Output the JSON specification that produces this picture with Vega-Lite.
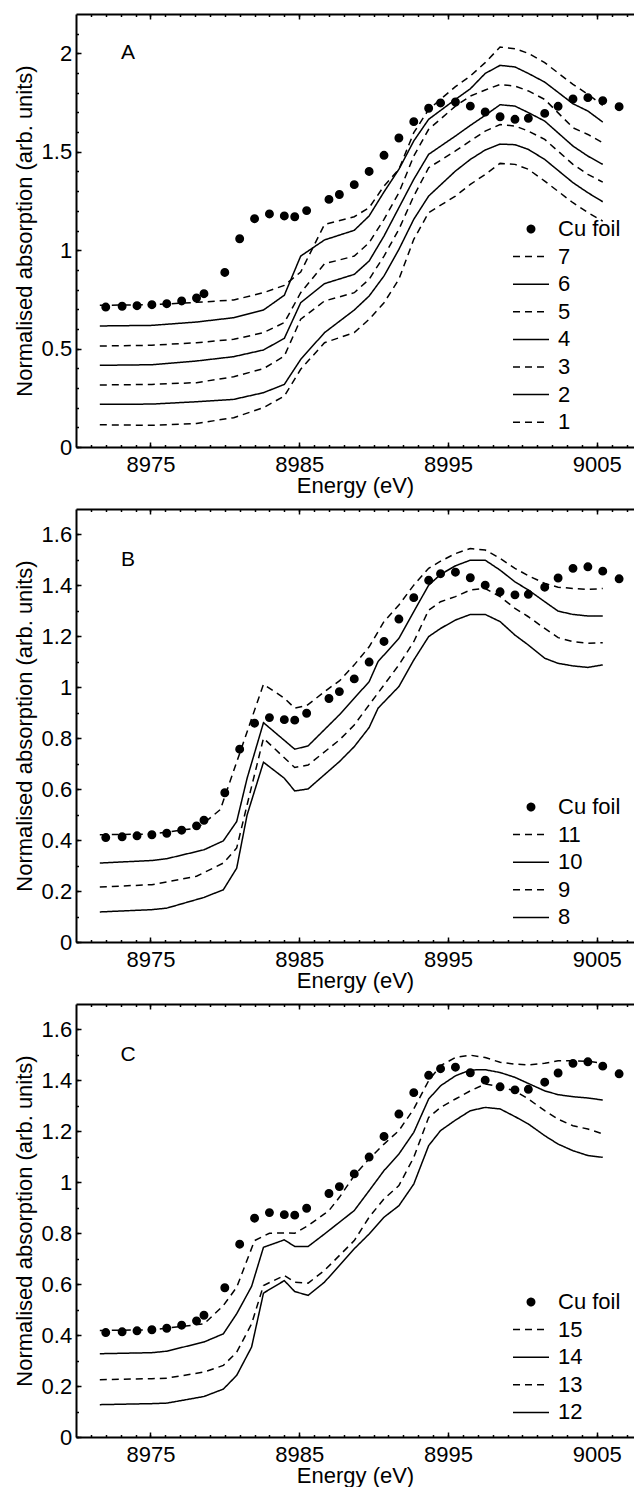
{
  "$schema": "https://vega.github.io/schema/vega-lite/v6.json",
  "background": "white",
  "padding": {"left": 13, "top": 13, "right": 0, "bottom": 0},
  "spacing": 11,
  "datasets": {
    "cuA": [
      {"s":"Cu foil","E":8972.0,"mu":0.711},{"s":"Cu foil","E":8973.1,"mu":0.715},{"s":"Cu foil","E":8974.1,"mu":0.718},{"s":"Cu foil","E":8975.1,"mu":0.723},{"s":"Cu foil","E":8976.1,"mu":0.728},{"s":"Cu foil","E":8977.1,"mu":0.742},{"s":"Cu foil","E":8978.1,"mu":0.757},{"s":"Cu foil","E":8978.6,"mu":0.779},{"s":"Cu foil","E":8980.0,"mu":0.887},{"s":"Cu foil","E":8981.0,"mu":1.058},{"s":"Cu foil","E":8982.0,"mu":1.160},{"s":"Cu foil","E":8983.0,"mu":1.184},{"s":"Cu foil","E":8984.0,"mu":1.174},{"s":"Cu foil","E":8984.7,"mu":1.170},{"s":"Cu foil","E":8985.5,"mu":1.201},{"s":"Cu foil","E":8987.0,"mu":1.258},{"s":"Cu foil","E":8987.7,"mu":1.283},{"s":"Cu foil","E":8988.7,"mu":1.333},{"s":"Cu foil","E":8989.7,"mu":1.400},{"s":"Cu foil","E":8990.7,"mu":1.482},{"s":"Cu foil","E":8991.7,"mu":1.570},{"s":"Cu foil","E":8992.7,"mu":1.653},{"s":"Cu foil","E":8993.7,"mu":1.721},{"s":"Cu foil","E":8994.5,"mu":1.748},{"s":"Cu foil","E":8995.5,"mu":1.753},{"s":"Cu foil","E":8996.5,"mu":1.732},{"s":"Cu foil","E":8997.5,"mu":1.702},{"s":"Cu foil","E":8998.5,"mu":1.678},{"s":"Cu foil","E":8999.5,"mu":1.665},{"s":"Cu foil","E":9000.4,"mu":1.670},{"s":"Cu foil","E":9001.5,"mu":1.695},{"s":"Cu foil","E":9002.4,"mu":1.731},{"s":"Cu foil","E":9003.4,"mu":1.768},{"s":"Cu foil","E":9004.4,"mu":1.775},{"s":"Cu foil","E":9005.4,"mu":1.760},{"s":"Cu foil","E":9006.5,"mu":1.729}
    ],
    "cuBC": [
      {"s":"Cu foil","E":8972.0,"mu":0.410},{"s":"Cu foil","E":8973.1,"mu":0.413},{"s":"Cu foil","E":8974.1,"mu":0.417},{"s":"Cu foil","E":8975.1,"mu":0.421},{"s":"Cu foil","E":8976.1,"mu":0.427},{"s":"Cu foil","E":8977.1,"mu":0.439},{"s":"Cu foil","E":8978.1,"mu":0.456},{"s":"Cu foil","E":8978.6,"mu":0.478},{"s":"Cu foil","E":8980.0,"mu":0.586},{"s":"Cu foil","E":8981.0,"mu":0.757},{"s":"Cu foil","E":8982.0,"mu":0.859},{"s":"Cu foil","E":8983.0,"mu":0.881},{"s":"Cu foil","E":8984.0,"mu":0.873},{"s":"Cu foil","E":8984.7,"mu":0.871},{"s":"Cu foil","E":8985.5,"mu":0.898},{"s":"Cu foil","E":8987.0,"mu":0.956},{"s":"Cu foil","E":8987.7,"mu":0.983},{"s":"Cu foil","E":8988.7,"mu":1.033},{"s":"Cu foil","E":8989.7,"mu":1.099},{"s":"Cu foil","E":8990.7,"mu":1.180},{"s":"Cu foil","E":8991.7,"mu":1.268},{"s":"Cu foil","E":8992.7,"mu":1.352},{"s":"Cu foil","E":8993.7,"mu":1.420},{"s":"Cu foil","E":8994.5,"mu":1.446},{"s":"Cu foil","E":8995.5,"mu":1.452},{"s":"Cu foil","E":8996.5,"mu":1.430},{"s":"Cu foil","E":8997.5,"mu":1.401},{"s":"Cu foil","E":8998.5,"mu":1.375},{"s":"Cu foil","E":8999.5,"mu":1.363},{"s":"Cu foil","E":9000.4,"mu":1.365},{"s":"Cu foil","E":9001.5,"mu":1.393},{"s":"Cu foil","E":9002.4,"mu":1.429},{"s":"Cu foil","E":9003.4,"mu":1.467},{"s":"Cu foil","E":9004.4,"mu":1.473},{"s":"Cu foil","E":9005.4,"mu":1.456},{"s":"Cu foil","E":9006.5,"mu":1.426}
    ],
    "linesA": [
      {"s":"7","E":8971.6,"mu":0.720},{"s":"7","E":8975.1,"mu":0.723},{"s":"7","E":8978.1,"mu":0.735},{"s":"7","E":8980.6,"mu":0.747},{"s":"7","E":8982.6,"mu":0.784},{"s":"7","E":8984.0,"mu":0.821},{"s":"7","E":8985.1,"mu":0.889},{"s":"7","E":8986.7,"mu":1.131},{"s":"7","E":8988.7,"mu":1.170},{"s":"7","E":8989.7,"mu":1.216},{"s":"7","E":8990.7,"mu":1.326},{"s":"7","E":8991.7,"mu":1.411},{"s":"7","E":8992.7,"mu":1.597},{"s":"7","E":8993.7,"mu":1.715},{"s":"7","E":8995.5,"mu":1.831},{"s":"7","E":8996.5,"mu":1.885},{"s":"7","E":8997.5,"mu":1.953},{"s":"7","E":8998.5,"mu":2.032},{"s":"7","E":8999.5,"mu":2.024},{"s":"7","E":9000.4,"mu":2.000},{"s":"7","E":9001.5,"mu":1.953},{"s":"7","E":9003.4,"mu":1.842},{"s":"7","E":9004.4,"mu":1.792},{"s":"7","E":9005.4,"mu":1.736},
      {"s":"6","E":8971.6,"mu":0.615},{"s":"6","E":8975.1,"mu":0.618},{"s":"6","E":8978.1,"mu":0.635},{"s":"6","E":8980.6,"mu":0.657},{"s":"6","E":8982.6,"mu":0.696},{"s":"6","E":8984.0,"mu":0.771},{"s":"6","E":8985.1,"mu":0.970},{"s":"6","E":8986.7,"mu":1.052},{"s":"6","E":8988.7,"mu":1.101},{"s":"6","E":8989.7,"mu":1.174},{"s":"6","E":8990.7,"mu":1.296},{"s":"6","E":8991.7,"mu":1.411},{"s":"6","E":8992.7,"mu":1.555},{"s":"6","E":8993.7,"mu":1.665},{"s":"6","E":8995.5,"mu":1.766},{"s":"6","E":8996.5,"mu":1.820},{"s":"6","E":8997.5,"mu":1.898},{"s":"6","E":8998.5,"mu":1.939},{"s":"6","E":8999.5,"mu":1.931},{"s":"6","E":9000.4,"mu":1.898},{"s":"6","E":9001.5,"mu":1.854},{"s":"6","E":9003.4,"mu":1.744},{"s":"6","E":9004.4,"mu":1.707},{"s":"6","E":9005.4,"mu":1.651},
      {"s":"5","E":8971.6,"mu":0.513},{"s":"5","E":8975.1,"mu":0.517},{"s":"5","E":8978.1,"mu":0.530},{"s":"5","E":8980.6,"mu":0.547},{"s":"5","E":8982.6,"mu":0.581},{"s":"5","E":8984.0,"mu":0.632},{"s":"5","E":8985.1,"mu":0.784},{"s":"5","E":8986.7,"mu":0.931},{"s":"5","E":8988.7,"mu":0.970},{"s":"5","E":8989.7,"mu":1.038},{"s":"5","E":8990.7,"mu":1.157},{"s":"5","E":8991.7,"mu":1.292},{"s":"5","E":8992.7,"mu":1.478},{"s":"5","E":8993.7,"mu":1.614},{"s":"5","E":8995.5,"mu":1.732},{"s":"5","E":8996.5,"mu":1.783},{"s":"5","E":8997.5,"mu":1.814},{"s":"5","E":8998.5,"mu":1.842},{"s":"5","E":8999.5,"mu":1.834},{"s":"5","E":9000.4,"mu":1.809},{"s":"5","E":9001.5,"mu":1.766},{"s":"5","E":9003.4,"mu":1.622},{"s":"5","E":9004.4,"mu":1.588},{"s":"5","E":9005.4,"mu":1.546},
      {"s":"4","E":8971.6,"mu":0.415},{"s":"4","E":8975.1,"mu":0.418},{"s":"4","E":8978.1,"mu":0.437},{"s":"4","E":8980.6,"mu":0.459},{"s":"4","E":8982.6,"mu":0.493},{"s":"4","E":8984.0,"mu":0.552},{"s":"4","E":8985.1,"mu":0.733},{"s":"4","E":8986.7,"mu":0.830},{"s":"4","E":8988.7,"mu":0.877},{"s":"4","E":8989.7,"mu":0.945},{"s":"4","E":8990.7,"mu":1.072},{"s":"4","E":8991.7,"mu":1.216},{"s":"4","E":8992.7,"mu":1.360},{"s":"4","E":8993.7,"mu":1.487},{"s":"4","E":8995.5,"mu":1.580},{"s":"4","E":8996.5,"mu":1.634},{"s":"4","E":8997.5,"mu":1.685},{"s":"4","E":8998.5,"mu":1.739},{"s":"4","E":8999.5,"mu":1.732},{"s":"4","E":9000.4,"mu":1.699},{"s":"4","E":9001.5,"mu":1.656},{"s":"4","E":9003.4,"mu":1.529},{"s":"4","E":9004.4,"mu":1.478},{"s":"4","E":9005.4,"mu":1.436},
      {"s":"3","E":8971.6,"mu":0.315},{"s":"3","E":8975.1,"mu":0.318},{"s":"3","E":8978.1,"mu":0.327},{"s":"3","E":8980.6,"mu":0.357},{"s":"3","E":8982.6,"mu":0.398},{"s":"3","E":8984.0,"mu":0.462},{"s":"3","E":8985.1,"mu":0.649},{"s":"3","E":8986.7,"mu":0.742},{"s":"3","E":8988.7,"mu":0.784},{"s":"3","E":8989.7,"mu":0.852},{"s":"3","E":8990.7,"mu":0.970},{"s":"3","E":8991.7,"mu":1.106},{"s":"3","E":8992.7,"mu":1.275},{"s":"3","E":8993.7,"mu":1.419},{"s":"3","E":8995.5,"mu":1.504},{"s":"3","E":8996.5,"mu":1.555},{"s":"3","E":8997.5,"mu":1.605},{"s":"3","E":8998.5,"mu":1.638},{"s":"3","E":8999.5,"mu":1.631},{"s":"3","E":9000.4,"mu":1.605},{"s":"3","E":9001.5,"mu":1.563},{"s":"3","E":9003.4,"mu":1.436},{"s":"3","E":9004.4,"mu":1.385},{"s":"3","E":9005.4,"mu":1.346},
      {"s":"2","E":8971.6,"mu":0.217},{"s":"2","E":8975.1,"mu":0.218},{"s":"2","E":8978.1,"mu":0.230},{"s":"2","E":8980.6,"mu":0.242},{"s":"2","E":8982.6,"mu":0.276},{"s":"2","E":8984.0,"mu":0.318},{"s":"2","E":8985.1,"mu":0.445},{"s":"2","E":8986.7,"mu":0.581},{"s":"2","E":8988.7,"mu":0.696},{"s":"2","E":8989.7,"mu":0.767},{"s":"2","E":8990.7,"mu":0.869},{"s":"2","E":8991.7,"mu":1.004},{"s":"2","E":8992.7,"mu":1.157},{"s":"2","E":8993.7,"mu":1.275},{"s":"2","E":8995.5,"mu":1.402},{"s":"2","E":8996.5,"mu":1.461},{"s":"2","E":8997.5,"mu":1.509},{"s":"2","E":8998.5,"mu":1.539},{"s":"2","E":8999.5,"mu":1.536},{"s":"2","E":9000.4,"mu":1.512},{"s":"2","E":9001.5,"mu":1.461},{"s":"2","E":9003.4,"mu":1.343},{"s":"2","E":9004.4,"mu":1.292},{"s":"2","E":9005.4,"mu":1.246},
      {"s":"1","E":8971.6,"mu":0.113},{"s":"1","E":8975.1,"mu":0.110},{"s":"1","E":8978.1,"mu":0.120},{"s":"1","E":8980.6,"mu":0.149},{"s":"1","E":8982.6,"mu":0.200},{"s":"1","E":8984.0,"mu":0.259},{"s":"1","E":8985.1,"mu":0.395},{"s":"1","E":8986.7,"mu":0.530},{"s":"1","E":8988.7,"mu":0.581},{"s":"1","E":8989.7,"mu":0.649},{"s":"1","E":8990.7,"mu":0.733},{"s":"1","E":8991.7,"mu":0.852},{"s":"1","E":8992.7,"mu":1.055},{"s":"1","E":8993.7,"mu":1.191},{"s":"1","E":8995.5,"mu":1.275},{"s":"1","E":8996.5,"mu":1.334},{"s":"1","E":8997.5,"mu":1.385},{"s":"1","E":8998.5,"mu":1.441},{"s":"1","E":8999.5,"mu":1.436},{"s":"1","E":9000.4,"mu":1.411},{"s":"1","E":9001.5,"mu":1.351},{"s":"1","E":9003.4,"mu":1.241},{"s":"1","E":9004.4,"mu":1.191},{"s":"1","E":9005.4,"mu":1.148}
    ],
    "linesB": [
      {"s":"11","E":8971.6,"mu":0.421},{"s":"11","E":8975.1,"mu":0.424},{"s":"11","E":8978.1,"mu":0.447},{"s":"11","E":8978.6,"mu":0.467},{"s":"11","E":8979.7,"mu":0.520},{"s":"11","E":8982.6,"mu":1.012},{"s":"11","E":8984.0,"mu":0.957},{"s":"11","E":8984.7,"mu":0.918},{"s":"11","E":8985.5,"mu":0.928},{"s":"11","E":8987.0,"mu":0.996},{"s":"11","E":8987.7,"mu":1.025},{"s":"11","E":8988.7,"mu":1.088},{"s":"11","E":8989.7,"mu":1.159},{"s":"11","E":8990.7,"mu":1.258},{"s":"11","E":8991.7,"mu":1.323},{"s":"11","E":8992.7,"mu":1.401},{"s":"11","E":8993.7,"mu":1.467},{"s":"11","E":8994.5,"mu":1.495},{"s":"11","E":8995.5,"mu":1.525},{"s":"11","E":8996.5,"mu":1.545},{"s":"11","E":8997.5,"mu":1.539},{"s":"11","E":8998.5,"mu":1.506},{"s":"11","E":8999.5,"mu":1.467},{"s":"11","E":9000.4,"mu":1.438},{"s":"11","E":9001.5,"mu":1.408},{"s":"11","E":9002.4,"mu":1.393},{"s":"11","E":9003.4,"mu":1.388},{"s":"11","E":9004.4,"mu":1.384},{"s":"11","E":9005.4,"mu":1.388},
      {"s":"10","E":8971.6,"mu":0.310},{"s":"10","E":8975.1,"mu":0.320},{"s":"10","E":8976.1,"mu":0.327},{"s":"10","E":8978.6,"mu":0.362},{"s":"10","E":8979.9,"mu":0.397},{"s":"10","E":8980.8,"mu":0.473},{"s":"10","E":8981.5,"mu":0.643},{"s":"10","E":8982.6,"mu":0.861},{"s":"10","E":8984.7,"mu":0.757},{"s":"10","E":8985.6,"mu":0.770},{"s":"10","E":8987.7,"mu":0.892},{"s":"10","E":8989.7,"mu":1.022},{"s":"10","E":8990.3,"mu":1.101},{"s":"10","E":8991.7,"mu":1.192},{"s":"10","E":8992.7,"mu":1.297},{"s":"10","E":8993.7,"mu":1.401},{"s":"10","E":8994.5,"mu":1.443},{"s":"10","E":8995.5,"mu":1.477},{"s":"10","E":8996.5,"mu":1.499},{"s":"10","E":8997.5,"mu":1.499},{"s":"10","E":8998.5,"mu":1.460},{"s":"10","E":8999.5,"mu":1.414},{"s":"10","E":9000.4,"mu":1.382},{"s":"10","E":9001.5,"mu":1.336},{"s":"10","E":9002.4,"mu":1.299},{"s":"10","E":9003.4,"mu":1.286},{"s":"10","E":9004.4,"mu":1.280},{"s":"10","E":9005.4,"mu":1.280},
      {"s":"9","E":8971.6,"mu":0.216},{"s":"9","E":8975.1,"mu":0.225},{"s":"9","E":8978.1,"mu":0.258},{"s":"9","E":8979.9,"mu":0.310},{"s":"9","E":8980.8,"mu":0.369},{"s":"9","E":8981.5,"mu":0.539},{"s":"9","E":8982.6,"mu":0.800},{"s":"9","E":8984.7,"mu":0.685},{"s":"9","E":8985.6,"mu":0.695},{"s":"9","E":8987.7,"mu":0.793},{"s":"9","E":8988.7,"mu":0.852},{"s":"9","E":8989.7,"mu":0.931},{"s":"9","E":8990.7,"mu":1.009},{"s":"9","E":8991.7,"mu":1.088},{"s":"9","E":8992.7,"mu":1.179},{"s":"9","E":8993.7,"mu":1.303},{"s":"9","E":8994.5,"mu":1.336},{"s":"9","E":8995.5,"mu":1.356},{"s":"9","E":8996.5,"mu":1.382},{"s":"9","E":8997.5,"mu":1.388},{"s":"9","E":8998.5,"mu":1.356},{"s":"9","E":8999.5,"mu":1.310},{"s":"9","E":9000.4,"mu":1.277},{"s":"9","E":9001.5,"mu":1.231},{"s":"9","E":9002.4,"mu":1.195},{"s":"9","E":9003.4,"mu":1.179},{"s":"9","E":9004.4,"mu":1.173},{"s":"9","E":9005.4,"mu":1.175},
      {"s":"8","E":8971.6,"mu":0.118},{"s":"8","E":8975.1,"mu":0.127},{"s":"8","E":8976.1,"mu":0.133},{"s":"8","E":8978.6,"mu":0.175},{"s":"8","E":8979.9,"mu":0.205},{"s":"8","E":8980.8,"mu":0.290},{"s":"8","E":8981.5,"mu":0.499},{"s":"8","E":8982.6,"mu":0.706},{"s":"8","E":8984.0,"mu":0.643},{"s":"8","E":8984.7,"mu":0.593},{"s":"8","E":8985.6,"mu":0.601},{"s":"8","E":8987.7,"mu":0.708},{"s":"8","E":8988.7,"mu":0.767},{"s":"8","E":8989.7,"mu":0.842},{"s":"8","E":8990.3,"mu":0.918},{"s":"8","E":8991.7,"mu":1.003},{"s":"8","E":8992.7,"mu":1.107},{"s":"8","E":8993.7,"mu":1.199},{"s":"8","E":8994.5,"mu":1.231},{"s":"8","E":8995.5,"mu":1.264},{"s":"8","E":8996.5,"mu":1.286},{"s":"8","E":8997.5,"mu":1.286},{"s":"8","E":8998.5,"mu":1.258},{"s":"8","E":8999.5,"mu":1.205},{"s":"8","E":9000.4,"mu":1.166},{"s":"8","E":9001.5,"mu":1.114},{"s":"8","E":9002.4,"mu":1.094},{"s":"8","E":9003.4,"mu":1.084},{"s":"8","E":9004.4,"mu":1.078},{"s":"8","E":9005.4,"mu":1.088}
    ],
    "linesC": [
      {"s":"15","E":8971.6,"mu":0.418},{"s":"15","E":8975.1,"mu":0.421},{"s":"15","E":8978.6,"mu":0.444},{"s":"15","E":8979.9,"mu":0.516},{"s":"15","E":8980.8,"mu":0.588},{"s":"15","E":8982.0,"mu":0.771},{"s":"15","E":8983.0,"mu":0.800},{"s":"15","E":8984.0,"mu":0.801},{"s":"15","E":8984.7,"mu":0.800},{"s":"15","E":8985.6,"mu":0.830},{"s":"15","E":8987.0,"mu":0.889},{"s":"15","E":8987.7,"mu":0.941},{"s":"15","E":8988.7,"mu":1.026},{"s":"15","E":8989.7,"mu":1.092},{"s":"15","E":8990.7,"mu":1.150},{"s":"15","E":8991.7,"mu":1.203},{"s":"15","E":8992.7,"mu":1.288},{"s":"15","E":8993.7,"mu":1.399},{"s":"15","E":8994.5,"mu":1.458},{"s":"15","E":8995.5,"mu":1.490},{"s":"15","E":8996.5,"mu":1.499},{"s":"15","E":8997.5,"mu":1.490},{"s":"15","E":8998.5,"mu":1.471},{"s":"15","E":8999.5,"mu":1.464},{"s":"15","E":9000.4,"mu":1.461},{"s":"15","E":9001.5,"mu":1.467},{"s":"15","E":9002.4,"mu":1.477},{"s":"15","E":9003.4,"mu":1.477},{"s":"15","E":9004.4,"mu":1.475},{"s":"15","E":9005.4,"mu":1.467},
      {"s":"14","E":8971.6,"mu":0.327},{"s":"14","E":8975.1,"mu":0.331},{"s":"14","E":8976.1,"mu":0.337},{"s":"14","E":8978.6,"mu":0.373},{"s":"14","E":8979.9,"mu":0.405},{"s":"14","E":8980.8,"mu":0.484},{"s":"14","E":8981.8,"mu":0.591},{"s":"14","E":8982.6,"mu":0.745},{"s":"14","E":8984.0,"mu":0.774},{"s":"14","E":8984.7,"mu":0.748},{"s":"14","E":8985.6,"mu":0.748},{"s":"14","E":8986.7,"mu":0.797},{"s":"14","E":8988.7,"mu":0.889},{"s":"14","E":8989.7,"mu":0.967},{"s":"14","E":8990.7,"mu":1.046},{"s":"14","E":8991.7,"mu":1.111},{"s":"14","E":8992.7,"mu":1.196},{"s":"14","E":8993.7,"mu":1.327},{"s":"14","E":8994.5,"mu":1.379},{"s":"14","E":8995.5,"mu":1.418},{"s":"14","E":8996.5,"mu":1.441},{"s":"14","E":8997.5,"mu":1.442},{"s":"14","E":8998.5,"mu":1.431},{"s":"14","E":8999.5,"mu":1.412},{"s":"14","E":9000.4,"mu":1.388},{"s":"14","E":9001.5,"mu":1.359},{"s":"14","E":9002.4,"mu":1.344},{"s":"14","E":9003.4,"mu":1.336},{"s":"14","E":9004.4,"mu":1.331},{"s":"14","E":9005.4,"mu":1.323},
      {"s":"13","E":8971.6,"mu":0.225},{"s":"13","E":8975.1,"mu":0.229},{"s":"13","E":8976.1,"mu":0.231},{"s":"13","E":8978.6,"mu":0.255},{"s":"13","E":8979.9,"mu":0.281},{"s":"13","E":8980.8,"mu":0.333},{"s":"13","E":8981.8,"mu":0.444},{"s":"13","E":8982.6,"mu":0.595},{"s":"13","E":8984.0,"mu":0.634},{"s":"13","E":8984.7,"mu":0.608},{"s":"13","E":8985.6,"mu":0.604},{"s":"13","E":8986.7,"mu":0.654},{"s":"13","E":8988.7,"mu":0.771},{"s":"13","E":8989.7,"mu":0.863},{"s":"13","E":8990.7,"mu":0.935},{"s":"13","E":8991.7,"mu":0.987},{"s":"13","E":8992.7,"mu":1.098},{"s":"13","E":8993.7,"mu":1.255},{"s":"13","E":8994.5,"mu":1.294},{"s":"13","E":8995.5,"mu":1.327},{"s":"13","E":8996.5,"mu":1.359},{"s":"13","E":8997.5,"mu":1.386},{"s":"13","E":8998.5,"mu":1.375},{"s":"13","E":8999.5,"mu":1.359},{"s":"13","E":9000.4,"mu":1.327},{"s":"13","E":9001.5,"mu":1.281},{"s":"13","E":9002.4,"mu":1.248},{"s":"13","E":9003.4,"mu":1.222},{"s":"13","E":9004.4,"mu":1.209},{"s":"13","E":9005.4,"mu":1.190},
      {"s":"12","E":8971.6,"mu":0.127},{"s":"12","E":8975.1,"mu":0.131},{"s":"12","E":8976.1,"mu":0.133},{"s":"12","E":8978.6,"mu":0.159},{"s":"12","E":8979.9,"mu":0.188},{"s":"12","E":8980.8,"mu":0.242},{"s":"12","E":8981.8,"mu":0.353},{"s":"12","E":8982.6,"mu":0.565},{"s":"12","E":8984.0,"mu":0.614},{"s":"12","E":8984.7,"mu":0.571},{"s":"12","E":8985.6,"mu":0.556},{"s":"12","E":8986.7,"mu":0.608},{"s":"12","E":8988.7,"mu":0.739},{"s":"12","E":8989.7,"mu":0.797},{"s":"12","E":8990.7,"mu":0.863},{"s":"12","E":8991.7,"mu":0.908},{"s":"12","E":8992.7,"mu":0.993},{"s":"12","E":8993.7,"mu":1.144},{"s":"12","E":8994.5,"mu":1.203},{"s":"12","E":8995.5,"mu":1.244},{"s":"12","E":8996.5,"mu":1.281},{"s":"12","E":8997.5,"mu":1.294},{"s":"12","E":8998.5,"mu":1.288},{"s":"12","E":8999.5,"mu":1.258},{"s":"12","E":9000.4,"mu":1.229},{"s":"12","E":9001.5,"mu":1.183},{"s":"12","E":9002.4,"mu":1.150},{"s":"12","E":9003.4,"mu":1.124},{"s":"12","E":9004.4,"mu":1.105},{"s":"12","E":9005.4,"mu":1.098}
    ]
  },
  "vconcat": [
    {
      "width": 558, "height": 433,
      "layer": [
        {
          "data": {"name": "cuA"},
          "mark": {"type": "point", "filled": true, "fill": "black", "stroke": "black", "strokeWidth": 1.5, "size": 55, "opacity": 1},
          "encoding": {
            "x": {"field": "E", "type": "quantitative", "scale": {"domain": [8970, 9007.5], "nice": false, "zero": false},
                  "axis": {"orient": "bottom", "values": [8975, 8985, 8995, 9005], "format": "d", "title": "Energy (eV)", "tickSize": -5, "labelPadding": 12.4, "titlePadding": 0}},
            "y": {"field": "mu", "type": "quantitative", "scale": {"domain": [0, 2.2], "nice": false, "zero": false},
                  "axis": {"orient": "left", "values": [0, 0.5, 1, 1.5, 2], "format": "~g", "title": "Normalised absorption (arb. units)", "tickSize": -5, "labelPadding": 9.3, "titlePadding": 5}},
            "shape": {"field": "s", "type": "nominal",
                      "scale": {"domain": ["Cu foil", "7", "6", "5", "4", "3", "2", "1"], "range": ["circle", "M-3,0H3", "M-3,0H3", "M-3,0H3", "M-3,0H3", "M-3,0H3", "M-3,0H3", "M-3,0H3"]},
                      "legend": {"encoding": {"symbols": {"stroke": {"value": "black"}, "strokeWidth": {"value": 1.5}, "opacity": {"value": 1}, "fill": {"condition": {"test": "datum.value === 'Cu foil'", "value": "black"}, "value": "transparent"}}}}}
          }
        },
        {
          "data": {"name": "linesA"},
          "mark": {"type": "line", "color": "black", "strokeWidth": 1.5},
          "encoding": {
            "x": {"field": "E", "type": "quantitative", "axis": {"orient": "bottom", "values": [8971, 8972, 8973, 8974, 8975, 8976, 8977, 8978, 8979, 8980, 8981, 8982, 8983, 8984, 8985, 8986, 8987, 8988, 8989, 8990, 8991, 8992, 8993, 8994, 8995, 8996, 8997, 8998, 8999, 9000, 9001, 9002, 9003, 9004, 9005, 9006, 9007], "labels": false, "title": null, "domain": false, "tickSize": -2.5}},
            "y": {"field": "mu", "type": "quantitative", "axis": {"orient": "left", "values": [0, 0.1, 0.2, 0.3, 0.4, 0.5, 0.6, 0.7, 0.8, 0.9, 1, 1.1, 1.2, 1.3, 1.4, 1.5, 1.6, 1.7, 1.8, 1.9, 2, 2.1], "labels": false, "title": null, "domain": false, "tickSize": -2.5}},
            "strokeDash": {"field": "s", "type": "nominal",
                           "scale": {"domain": ["Cu foil", "7", "6", "5", "4", "3", "2", "1"], "range": [[1, 0], [7, 5], [1, 0], [7, 5], [1, 0], [7, 5], [1, 0], [7, 5]]},
                           "legend": {"encoding": {"symbols": {"stroke": {"value": "black"}, "strokeWidth": {"value": 1.5}, "opacity": {"value": 1}, "fill": {"condition": {"test": "datum.value === 'Cu foil'", "value": "black"}, "value": "transparent"}}}}}
          }
        },
        {
          "data": {"values": [{"label": "A"}]},
          "mark": {"type": "text", "fontSize": 21, "align": "center", "baseline": "middle", "color": "black"},
          "encoding": {
            "x": {"datum": 8973.5, "type": "quantitative", "axis": {"orient": "top", "values": [8975, 8985, 8995, 9005], "labels": false, "title": null, "tickSize": -5}},
            "y": {"datum": 2.0, "type": "quantitative", "axis": null},
            "text": {"field": "label"}
          }
        },
        {
          "data": {"values": [{"label": ""}]},
          "mark": {"type": "text", "fontSize": 21},
          "encoding": {
            "x": {"datum": 8973.5, "type": "quantitative", "axis": {"orient": "top", "values": [8971, 8972, 8973, 8974, 8975, 8976, 8977, 8978, 8979, 8980, 8981, 8982, 8983, 8984, 8985, 8986, 8987, 8988, 8989, 8990, 8991, 8992, 8993, 8994, 8995, 8996, 8997, 8998, 8999, 9000, 9001, 9002, 9003, 9004, 9005, 9006, 9007], "labels": false, "title": null, "domain": false, "tickSize": -2.5}},
            "y": {"datum": 2.0, "type": "quantitative", "axis": null},
            "text": {"field": "label"}
          }
        }
      ],
      "resolve": {"axis": {"x": "independent", "y": "independent"}}
    },
    {
      "width": 558, "height": 433,
      "layer": [
        {
          "data": {"name": "cuBC"},
          "mark": {"type": "point", "filled": true, "fill": "black", "stroke": "black", "strokeWidth": 1.5, "size": 55, "opacity": 1},
          "encoding": {
            "x": {"field": "E", "type": "quantitative", "scale": {"domain": [8970, 9007.5], "nice": false, "zero": false},
                  "axis": {"orient": "bottom", "values": [8975, 8985, 8995, 9005], "format": "d", "title": "Energy (eV)", "tickSize": -5, "labelPadding": 12.4, "titlePadding": 0}},
            "y": {"field": "mu", "type": "quantitative", "scale": {"domain": [0, 1.7], "nice": false, "zero": false},
                  "axis": {"orient": "left", "values": [0, 0.2, 0.4, 0.6, 0.8, 1, 1.2, 1.4, 1.6], "format": "~g", "title": "Normalised absorption (arb. units)", "tickSize": -5, "labelPadding": 9.3, "titlePadding": 5}},
            "shape": {"field": "s", "type": "nominal",
                      "scale": {"domain": ["Cu foil", "11", "10", "9", "8"], "range": ["circle", "M-3,0H3", "M-3,0H3", "M-3,0H3", "M-3,0H3"]},
                      "legend": {"encoding": {"symbols": {"stroke": {"value": "black"}, "strokeWidth": {"value": 1.5}, "opacity": {"value": 1}, "fill": {"condition": {"test": "datum.value === 'Cu foil'", "value": "black"}, "value": "transparent"}}}}}
          }
        },
        {
          "data": {"name": "linesB"},
          "mark": {"type": "line", "color": "black", "strokeWidth": 1.5},
          "encoding": {
            "x": {"field": "E", "type": "quantitative", "axis": {"orient": "bottom", "values": [8971, 8972, 8973, 8974, 8975, 8976, 8977, 8978, 8979, 8980, 8981, 8982, 8983, 8984, 8985, 8986, 8987, 8988, 8989, 8990, 8991, 8992, 8993, 8994, 8995, 8996, 8997, 8998, 8999, 9000, 9001, 9002, 9003, 9004, 9005, 9006, 9007], "labels": false, "title": null, "domain": false, "tickSize": -2.5}},
            "y": {"field": "mu", "type": "quantitative", "axis": {"orient": "left", "values": [0, 0.1, 0.2, 0.3, 0.4, 0.5, 0.6, 0.7, 0.8, 0.9, 1, 1.1, 1.2, 1.3, 1.4, 1.5, 1.6], "labels": false, "title": null, "domain": false, "tickSize": -2.5}},
            "strokeDash": {"field": "s", "type": "nominal",
                           "scale": {"domain": ["Cu foil", "11", "10", "9", "8"], "range": [[1, 0], [7, 5], [1, 0], [7, 5], [1, 0]]},
                           "legend": {"encoding": {"symbols": {"stroke": {"value": "black"}, "strokeWidth": {"value": 1.5}, "opacity": {"value": 1}, "fill": {"condition": {"test": "datum.value === 'Cu foil'", "value": "black"}, "value": "transparent"}}}}}
          }
        },
        {
          "data": {"values": [{"label": "B"}]},
          "mark": {"type": "text", "fontSize": 21, "align": "center", "baseline": "middle", "color": "black"},
          "encoding": {
            "x": {"datum": 8973.5, "type": "quantitative", "axis": {"orient": "top", "values": [8975, 8985, 8995, 9005], "labels": false, "title": null, "tickSize": -5}},
            "y": {"datum": 1.5, "type": "quantitative", "axis": null},
            "text": {"field": "label"}
          }
        },
        {
          "data": {"values": [{"label": ""}]},
          "mark": {"type": "text", "fontSize": 21},
          "encoding": {
            "x": {"datum": 8973.5, "type": "quantitative", "axis": {"orient": "top", "values": [8971, 8972, 8973, 8974, 8975, 8976, 8977, 8978, 8979, 8980, 8981, 8982, 8983, 8984, 8985, 8986, 8987, 8988, 8989, 8990, 8991, 8992, 8993, 8994, 8995, 8996, 8997, 8998, 8999, 9000, 9001, 9002, 9003, 9004, 9005, 9006, 9007], "labels": false, "title": null, "domain": false, "tickSize": -2.5}},
            "y": {"datum": 1.5, "type": "quantitative", "axis": null},
            "text": {"field": "label"}
          }
        }
      ],
      "resolve": {"axis": {"x": "independent", "y": "independent"}}
    },
    {
      "width": 558, "height": 433,
      "layer": [
        {
          "data": {"name": "cuBC"},
          "mark": {"type": "point", "filled": true, "fill": "black", "stroke": "black", "strokeWidth": 1.5, "size": 55, "opacity": 1},
          "encoding": {
            "x": {"field": "E", "type": "quantitative", "scale": {"domain": [8970, 9007.5], "nice": false, "zero": false},
                  "axis": {"orient": "bottom", "values": [8975, 8985, 8995, 9005], "format": "d", "title": "Energy (eV)", "tickSize": -5, "labelPadding": 12.4, "titlePadding": 0}},
            "y": {"field": "mu", "type": "quantitative", "scale": {"domain": [0, 1.7], "nice": false, "zero": false},
                  "axis": {"orient": "left", "values": [0, 0.2, 0.4, 0.6, 0.8, 1, 1.2, 1.4, 1.6], "format": "~g", "title": "Normalised absorption (arb. units)", "tickSize": -5, "labelPadding": 9.3, "titlePadding": 5}},
            "shape": {"field": "s", "type": "nominal",
                      "scale": {"domain": ["Cu foil", "15", "14", "13", "12"], "range": ["circle", "M-3,0H3", "M-3,0H3", "M-3,0H3", "M-3,0H3"]},
                      "legend": {"encoding": {"symbols": {"stroke": {"value": "black"}, "strokeWidth": {"value": 1.5}, "opacity": {"value": 1}, "fill": {"condition": {"test": "datum.value === 'Cu foil'", "value": "black"}, "value": "transparent"}}}}}
          }
        },
        {
          "data": {"name": "linesC"},
          "mark": {"type": "line", "color": "black", "strokeWidth": 1.5},
          "encoding": {
            "x": {"field": "E", "type": "quantitative", "axis": {"orient": "bottom", "values": [8971, 8972, 8973, 8974, 8975, 8976, 8977, 8978, 8979, 8980, 8981, 8982, 8983, 8984, 8985, 8986, 8987, 8988, 8989, 8990, 8991, 8992, 8993, 8994, 8995, 8996, 8997, 8998, 8999, 9000, 9001, 9002, 9003, 9004, 9005, 9006, 9007], "labels": false, "title": null, "domain": false, "tickSize": -2.5}},
            "y": {"field": "mu", "type": "quantitative", "axis": {"orient": "left", "values": [0, 0.1, 0.2, 0.3, 0.4, 0.5, 0.6, 0.7, 0.8, 0.9, 1, 1.1, 1.2, 1.3, 1.4, 1.5, 1.6], "labels": false, "title": null, "domain": false, "tickSize": -2.5}},
            "strokeDash": {"field": "s", "type": "nominal",
                           "scale": {"domain": ["Cu foil", "15", "14", "13", "12"], "range": [[1, 0], [7, 5], [1, 0], [7, 5], [1, 0]]},
                           "legend": {"encoding": {"symbols": {"stroke": {"value": "black"}, "strokeWidth": {"value": 1.5}, "opacity": {"value": 1}, "fill": {"condition": {"test": "datum.value === 'Cu foil'", "value": "black"}, "value": "transparent"}}}}}
          }
        },
        {
          "data": {"values": [{"label": "C"}]},
          "mark": {"type": "text", "fontSize": 21, "align": "center", "baseline": "middle", "color": "black"},
          "encoding": {
            "x": {"datum": 8973.5, "type": "quantitative", "axis": {"orient": "top", "values": [8975, 8985, 8995, 9005], "labels": false, "title": null, "tickSize": -5}},
            "y": {"datum": 1.5, "type": "quantitative", "axis": null},
            "text": {"field": "label"}
          }
        },
        {
          "data": {"values": [{"label": ""}]},
          "mark": {"type": "text", "fontSize": 21},
          "encoding": {
            "x": {"datum": 8973.5, "type": "quantitative", "axis": {"orient": "top", "values": [8971, 8972, 8973, 8974, 8975, 8976, 8977, 8978, 8979, 8980, 8981, 8982, 8983, 8984, 8985, 8986, 8987, 8988, 8989, 8990, 8991, 8992, 8993, 8994, 8995, 8996, 8997, 8998, 8999, 9000, 9001, 9002, 9003, 9004, 9005, 9006, 9007], "labels": false, "title": null, "domain": false, "tickSize": -2.5}},
            "y": {"datum": 1.5, "type": "quantitative", "axis": null},
            "text": {"field": "label"}
          }
        }
      ],
      "resolve": {"axis": {"x": "independent", "y": "independent"}}
    }
  ],
  "resolve": {
    "scale": {"x": "independent", "y": "independent", "shape": "independent", "strokeDash": "independent"},
    "legend": {"shape": "independent", "strokeDash": "independent"}
  },
  "config": {
    "font": "Liberation Sans",
    "view": {"stroke": null},
    "axis": {"grid": false, "labelFontSize": 22, "titleFontSize": 22, "titleFontWeight": "normal", "labelColor": "black", "titleColor": "black", "tickColor": "black", "domainColor": "black", "tickWidth": 1.5, "domainWidth": 2, "labelFont": "Liberation Sans", "titleFont": "Liberation Sans"},
    "legend": {"title": null, "orient": "bottom-right", "offset": 13, "padding": 0, "labelFontSize": 22, "labelFont": "Liberation Sans", "labelColor": "black", "labelOffset": 16, "symbolOffset": 13, "rowPadding": 5.6, "symbolStrokeWidth": 1.5, "symbolStrokeColor": "black", "symbolFillColor": "black", "symbolSize": {"expr": "datum.value === 'Cu foil' ? 55 : 144"}},
    "text": {"font": "Liberation Sans"}
  }
}
